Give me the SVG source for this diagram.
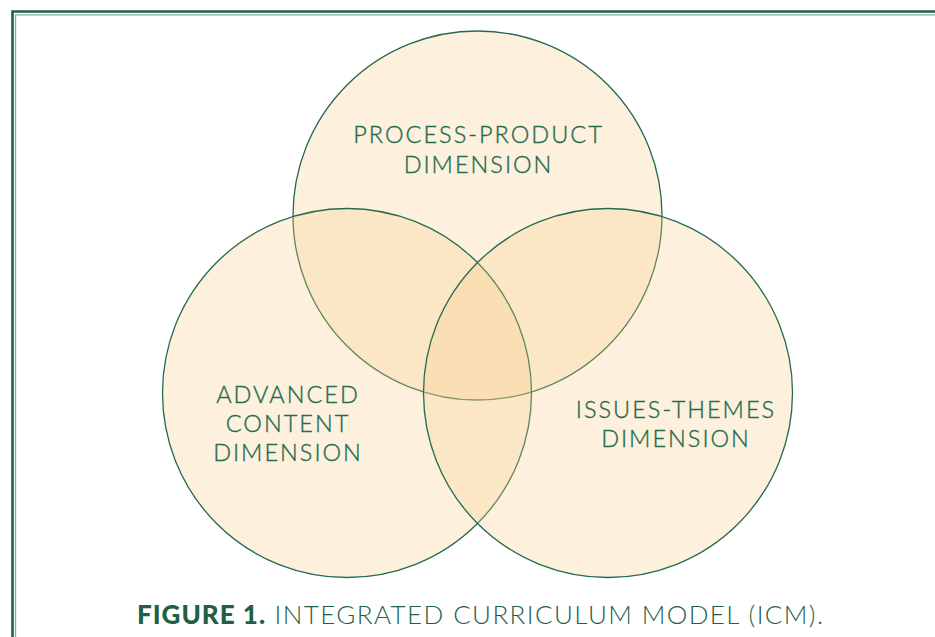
<svg xmlns="http://www.w3.org/2000/svg" width="935" height="637" viewBox="0 0 935 637">
<style>
.c{fill:#f8cd89;fill-opacity:0.28;stroke:#236b4f;stroke-width:1.3}
.t{font-family:Lato,"Noto Sans",sans-serif;font-size:23.5px;font-weight:300;fill:#236b4f;stroke:#236b4f;stroke-width:0.35;text-anchor:middle;letter-spacing:2px}
.cap{font-family:Lato,"Noto Sans",sans-serif;font-size:26px;font-weight:300;fill:#1f6047;letter-spacing:1.4px}
</style>
<rect width="935" height="637" fill="#ffffff"/>
<g id="frame">
<path d="M12.5,640 V11.5 H940" fill="none" stroke="#1f5e47" stroke-width="2.6"/>
<path d="M15.5,640 V14.8 H940" fill="none" stroke="#86ac9c" stroke-width="1.3"/>
</g>
<g id="process-product">
<circle class="c" cx="477.5" cy="215.5" r="184.5"/>
<text class="t" x="478.5" y="143">PROCESS-PRODUCT</text>
<text class="t" x="478.5" y="173">DIMENSION</text>
</g>
<g id="advanced-content">
<circle class="c" cx="347" cy="393" r="184.5"/>
<text class="t" x="288" y="403">ADVANCED</text>
<text class="t" x="288" y="432">CONTENT</text>
<text class="t" x="288" y="461">DIMENSION</text>
</g>
<g id="issues-themes">
<circle class="c" cx="608" cy="393" r="184.5"/>
<text class="t" x="676" y="418">ISSUES-THEMES</text>
<text class="t" x="676" y="447">DIMENSION</text>
</g>
<g id="connectors"></g>
<text class="cap" x="137" y="624"><tspan font-weight="900" letter-spacing="1px">FIGURE 1.</tspan> INTEGRATED CURRICULUM MODEL (ICM).</text>
</svg>
